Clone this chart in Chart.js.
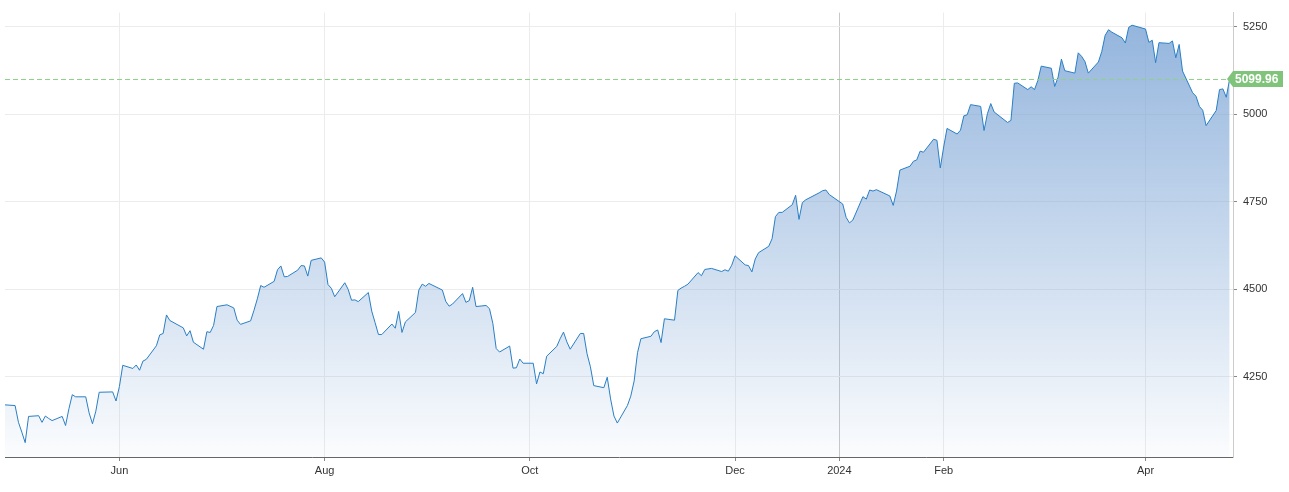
<!DOCTYPE html>
<html>
<head>
<meta charset="utf-8">
<script src="https://cdn.jsdelivr.net/npm/chart.js@4/dist/chart.umd.min.js"></script>
<style>
  html, body { margin: 0; padding: 0; background: #fff; }
  #wrap { width: 1289px; height: 492px; }
</style>
</head>
<body>
<div id="wrap"><canvas id="spx"></canvas></div>
<script>
// daily closes, Apr 28 2023 - Apr 26 2024
const dates = [
  '2023-04-28','2023-05-01','2023-05-02','2023-05-03','2023-05-04','2023-05-05','2023-05-08','2023-05-09','2023-05-10','2023-05-11','2023-05-12',
  '2023-05-15','2023-05-16','2023-05-17','2023-05-18','2023-05-19','2023-05-22','2023-05-23','2023-05-24','2023-05-25','2023-05-26',
  '2023-05-30','2023-05-31','2023-06-01','2023-06-02','2023-06-05','2023-06-06','2023-06-07','2023-06-08','2023-06-09',
  '2023-06-12','2023-06-13','2023-06-14','2023-06-15','2023-06-16','2023-06-20','2023-06-21','2023-06-22','2023-06-23',
  '2023-06-26','2023-06-27','2023-06-28','2023-06-29','2023-06-30','2023-07-03','2023-07-05','2023-07-06','2023-07-07',
  '2023-07-10','2023-07-11','2023-07-12','2023-07-13','2023-07-14','2023-07-17','2023-07-18','2023-07-19','2023-07-20','2023-07-21',
  '2023-07-24','2023-07-25','2023-07-26','2023-07-27','2023-07-28','2023-07-31','2023-08-01','2023-08-02','2023-08-03','2023-08-04',
  '2023-08-07','2023-08-08','2023-08-09','2023-08-10','2023-08-11','2023-08-14','2023-08-15','2023-08-16','2023-08-17','2023-08-18',
  '2023-08-21','2023-08-22','2023-08-23','2023-08-24','2023-08-25','2023-08-28','2023-08-29','2023-08-30','2023-08-31','2023-09-01',
  '2023-09-05','2023-09-06','2023-09-07','2023-09-08','2023-09-11','2023-09-12','2023-09-13','2023-09-14','2023-09-15',
  '2023-09-18','2023-09-19','2023-09-20','2023-09-21','2023-09-22','2023-09-25','2023-09-26','2023-09-27','2023-09-28','2023-09-29',
  '2023-10-02','2023-10-03','2023-10-04','2023-10-05','2023-10-06','2023-10-09','2023-10-10','2023-10-11','2023-10-12','2023-10-13',
  '2023-10-16','2023-10-17','2023-10-18','2023-10-19','2023-10-20','2023-10-23','2023-10-24','2023-10-25','2023-10-26','2023-10-27',
  '2023-10-30','2023-10-31','2023-11-01','2023-11-02','2023-11-03','2023-11-06','2023-11-07','2023-11-08','2023-11-09','2023-11-10',
  '2023-11-13','2023-11-14','2023-11-15','2023-11-16','2023-11-17','2023-11-20','2023-11-21','2023-11-22','2023-11-24',
  '2023-11-27','2023-11-28','2023-11-29','2023-11-30','2023-12-01','2023-12-04','2023-12-05','2023-12-06','2023-12-07','2023-12-08',
  '2023-12-11','2023-12-12','2023-12-13','2023-12-14','2023-12-15','2023-12-18','2023-12-19','2023-12-20','2023-12-21','2023-12-22',
  '2023-12-26','2023-12-27','2023-12-28','2023-12-29','2024-01-02','2024-01-03','2024-01-04','2024-01-05',
  '2024-01-08','2024-01-09','2024-01-10','2024-01-11','2024-01-12','2024-01-16','2024-01-17','2024-01-18','2024-01-19',
  '2024-01-22','2024-01-23','2024-01-24','2024-01-25','2024-01-26','2024-01-29','2024-01-30','2024-01-31','2024-02-01','2024-02-02',
  '2024-02-05','2024-02-06','2024-02-07','2024-02-08','2024-02-09','2024-02-12','2024-02-13','2024-02-14','2024-02-15','2024-02-16',
  '2024-02-20','2024-02-21','2024-02-22','2024-02-23','2024-02-26','2024-02-27','2024-02-28','2024-02-29','2024-03-01',
  '2024-03-04','2024-03-05','2024-03-06','2024-03-07','2024-03-08','2024-03-11','2024-03-12','2024-03-13','2024-03-14','2024-03-15',
  '2024-03-18','2024-03-19','2024-03-20','2024-03-21','2024-03-22','2024-03-25','2024-03-26','2024-03-27','2024-03-28',
  '2024-04-01','2024-04-02','2024-04-03','2024-04-04','2024-04-05','2024-04-08','2024-04-09','2024-04-10','2024-04-11','2024-04-12',
  '2024-04-15','2024-04-16','2024-04-17','2024-04-18','2024-04-19','2024-04-22','2024-04-23','2024-04-24','2024-04-25','2024-04-26'
];
const closes = [
  4169,4167,4119,4091,4061,4136,4138,4119,4137,4130,4124,
  4136,4110,4158,4198,4192,4192,4146,4115,4151,4205,
  4206,4180,4221,4282,4273,4283,4268,4294,4299,
  4338,4369,4373,4426,4410,4389,4366,4381,4348,
  4328,4378,4376,4396,4450,4455,4446,4411,4399,
  4409,4439,4472,4510,4505,4522,4555,4566,4535,4536,
  4554,4567,4566,4537,4582,4589,4577,4513,4502,4478,
  4518,4499,4468,4469,4464,4490,4437,4404,4370,4370,
  4400,4388,4436,4376,4406,4433,4497,4514,4508,4516,
  4497,4465,4451,4457,4487,4462,4467,4505,4450,
  4453,4444,4402,4330,4320,4337,4274,4275,4300,4288,
  4288,4229,4263,4258,4308,4336,4358,4377,4349,4328,
  4373,4373,4315,4278,4224,4218,4248,4186,4137,4117,
  4167,4194,4237,4318,4358,4365,4378,4383,4347,4415,
  4411,4496,4503,4508,4514,4547,4538,4556,4559,
  4550,4555,4551,4568,4595,4569,4567,4549,4586,4604,
  4622,4644,4707,4719,4719,4741,4768,4699,4747,4755,
  4775,4781,4783,4770,4743,4705,4689,4697,
  4764,4757,4783,4780,4784,4766,4739,4780,4840,
  4851,4865,4869,4894,4891,4928,4925,4846,4906,4959,
  4943,4954,4995,4998,5027,5022,4953,5001,5030,5006,
  4976,4982,5088,5089,5070,5078,5070,5096,5137,
  5131,5079,5105,5157,5124,5117,5175,5165,5150,5117,
  5149,5179,5225,5241,5234,5218,5203,5248,5254,
  5243,5205,5211,5147,5204,5202,5209,5161,5199,5123,
  5061,5051,5022,5011,4967,5010,5070,5072,5048,5100
];
const lastValue = 5099.96;
const monthTicks = ['2023-06-01','2023-08-01','2023-10-01','2023-12-01','2024-01-01','2024-02-01','2024-04-01'];
const monthLabels = ['Jun','Aug','Oct','Dec','2024','Feb','Apr'];
const yTicks = [4250, 4500, 4750, 5000, 5250];

const t0 = Date.UTC(2023, 3, 28);
function dayOf(s) {
  const p = s.split('-');
  return Math.round((Date.UTC(+p[0], +p[1] - 1, +p[2]) - t0) / 86400000);
}
const points = dates.map((d, i) => ({ x: dayOf(d), y: closes[i] }));
const tickDays = monthTicks.map(dayOf);

const lastTag = {
  id: 'lastTag',
  afterDatasetsDraw(chart) {
    const { ctx, chartArea, scales } = chart;
    const y = Math.round(scales.y.getPixelForValue(lastValue));
    ctx.save();
    ctx.strokeStyle = '#8fd18a';
    ctx.setLineDash([5, 3]);
    ctx.lineWidth = 1;
    ctx.beginPath();
    ctx.moveTo(chartArea.left, y + 0.5);
    ctx.lineTo(chartArea.right, y + 0.5);
    ctx.stroke();
    ctx.setLineDash([]);
    const x = chartArea.right - 6;
    ctx.fillStyle = '#7fc47a';
    ctx.beginPath();
    ctx.moveTo(x, y);
    ctx.lineTo(x + 6, y - 8);
    ctx.lineTo(x + 56, y - 8);
    ctx.lineTo(x + 56, y + 8);
    ctx.lineTo(x + 6, y + 8);
    ctx.closePath();
    ctx.fill();
    ctx.fillStyle = '#fff';
    ctx.font = 'bold 12px "Liberation Sans", Arial, sans-serif';
    ctx.textBaseline = 'middle';
    ctx.fillText(lastValue.toFixed(2), x + 8, y + 1);
    ctx.restore();
  }
};

new Chart(document.getElementById('spx'), {
  type: 'line',
  data: {
    datasets: [{
      data: points,
      borderColor: '#2a7fc4',
      borderWidth: 1,
      pointRadius: 0,
      tension: 0,
      fill: 'start',
      backgroundColor: (c) => {
        const a = c.chart.chartArea;
        if (!a) return 'rgba(140,176,218,0.5)';
        const g = c.chart.ctx.createLinearGradient(0, a.top, 0, a.bottom);
        g.addColorStop(0, 'rgba(126,166,214,0.85)');
        g.addColorStop(1, 'rgba(126,166,214,0.03)');
        return g;
      }
    }]
  },
  options: {
    responsive: true,
    maintainAspectRatio: false,
    animation: false,
    layout: { padding: { left: 5, top: -12, right: 0, bottom: 0 } },
    plugins: { legend: { display: false }, tooltip: { enabled: false } },
    scales: {
      x: {
        type: 'linear',
        min: 0,
        max: 365,
        afterBuildTicks: (s) => { s.ticks = tickDays.map(v => ({ value: v })); },
        afterFit: (s) => { s.height = 35; },
        ticks: {
          autoSkip: false,
          maxRotation: 0,
          color: '#333',
          font: { size: 11, family: '"Liberation Sans", Arial, sans-serif' },
          callback: (v) => monthLabels[tickDays.indexOf(v)]
        },
        grid: {
          color: (c) => (c.tick && c.tick.value === dayOf('2024-01-01')) ? '#c8c8c8' : '#ececec',
          drawTicks: true,
          tickLength: 4,
          tickColor: '#888'
        },
        border: { color: '#666' }
      },
      y: {
        position: 'right',
        min: 4020,
        max: 5290,
        afterBuildTicks: (s) => { s.ticks = yTicks.map(v => ({ value: v })); },
        afterFit: (s) => { s.width = 56; },
        ticks: {
          color: '#333',
          padding: 6,
          font: { size: 11, family: '"Liberation Sans", Arial, sans-serif' },
          callback: (v) => String(v)
        },
        grid: { color: '#ececec', drawTicks: true, tickLength: 4, tickColor: '#888' },
        border: { color: '#ccc' }
      }
    }
  },
  plugins: [lastTag]
});
</script>
</body>
</html>
